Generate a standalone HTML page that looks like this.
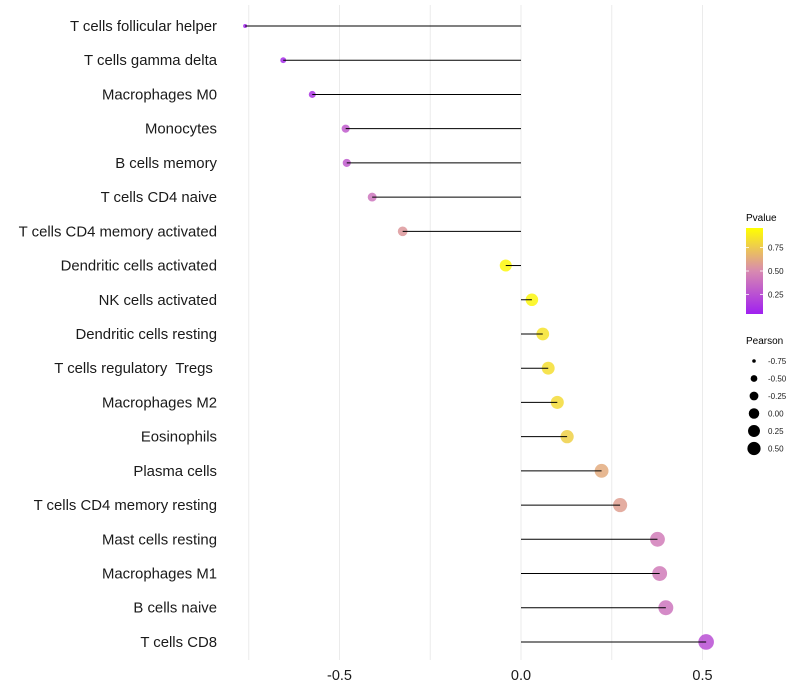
<!DOCTYPE html>
<html><head><meta charset="utf-8"><style>
html,body{margin:0;padding:0;background:#fff;}
svg{display:block;font-family:"Liberation Sans",sans-serif;}
</style></head><body>
<svg id="chart" width="800" height="700" viewBox="0 0 800 700">
<g id="grid"></g>
<g id="ylabels"></g>
<g id="xlabels"></g>
<g id="points"></g>
<g id="stems"></g>
<g id="legend">
  <defs>
    <linearGradient id="pg" x1="0" y1="1" x2="0" y2="0">
      <stop offset="0" stop-color="#a020f0"/>
      <stop offset="0.5" stop-color="#d88ab0"/>
      <stop offset="1" stop-color="#ffff00"/>
    </linearGradient>
  </defs>
  <text x="746" y="221" font-size="10" fill="#000">Pvalue</text>
  <rect x="746" y="228" width="17" height="86" fill="url(#pg)"/>
  <g id="cbticks"></g>
  <text x="746" y="344" font-size="10" fill="#000">Pearson</text>
  <g id="sizeleg"></g>
</g>
</svg>
<script>
const categories = ["T cells follicular helper","T cells gamma delta","Macrophages M0","Monocytes","B cells memory","T cells CD4 naive","T cells CD4 memory activated","Dendritic cells activated","NK cells activated","Dendritic cells resting","T cells regulatory  Tregs ","Macrophages M2","Eosinophils","Plasma cells","T cells CD4 memory resting","Mast cells resting","Macrophages M1","B cells naive","T cells CD8"];
const pearson = [-0.76,-0.655,-0.575,-0.483,-0.48,-0.41,-0.326,-0.042,0.03,0.06,0.075,0.1,0.127,0.222,0.273,0.376,0.382,0.399,0.51];
const pvalue = [0.02,0.05,0.1,0.28,0.28,0.4,0.56,0.97,0.96,0.88,0.86,0.84,0.8,0.64,0.59,0.44,0.43,0.4,0.22];
const xTicks = [-0.5,0,0.5];
const xTickLabels = ["-0.5","0.0","0.5"];
const gridVals = [-0.75,-0.5,-0.25,0,0.25,0.5];
const cbTicks = [0.25,0.5,0.75];
const sizeLegendVals = [-0.75,-0.5,-0.25,0,0.25,0.5];

const NS="http://www.w3.org/2000/svg";
const x0=521, xs=363;
function xScale(v){return x0+v*xs;}
function yScale(i){return 26+i*34.22;}
const pMin=Math.min(...pearson), pMax=Math.max(...pearson);
function rScale(v){const t=Math.max(0,Math.min(1,(v-pMin)/(pMax-pMin)));return Math.sqrt(2*2+t*(7.8*7.8-2*2));}
function lerp(a,b,t){return a+(b-a)*t;}
function hex(c){return [parseInt(c.slice(1,3),16),parseInt(c.slice(3,5),16),parseInt(c.slice(5,7),16)];}
const stops=[[0,hex("#a020f0")],[0.5,hex("#d88ab0")],[1,hex("#ffff00")]];
function colorScale(p){
  for(let i=0;i<stops.length-1;i++){const a=stops[i],b=stops[i+1];
    if(p<=b[0]||i===stops.length-2){const t=Math.max(0,Math.min(1,(p-a[0])/(b[0]-a[0])));
      return "rgb("+a[1].map((c,k)=>Math.round(lerp(c,b[1][k],t))).join(",")+")";}}
}
function mk(tag,attrs,parent){const e=document.createElementNS(NS,tag);for(const k in attrs)e.setAttribute(k,attrs[k]);parent.appendChild(e);return e;}

const grid=document.getElementById("grid");
gridVals.forEach(v=>{
  const l=mk("line",{x1:xScale(v),x2:xScale(v),y1:5,y2:660,stroke:"#ebebeb","stroke-width":1},grid);
  
  
});
const xl=document.getElementById("xlabels");
xTicks.forEach((v,i)=>{
  const t=mk("text",{x:xScale(v),y:680,"font-size":14.5,"text-anchor":"middle",fill:"#1a1a1a"},xl);
  t.textContent=xTickLabels[i];
  
  
});
const yl=document.getElementById("ylabels"), pts=document.getElementById("points"), st=document.getElementById("stems");
categories.forEach((c,i)=>{
  const y=yScale(i);
  const t=mk("text",{x:217,y:y+5,"font-size":14.9,"text-anchor":"end",fill:"#1a1a1a",style:"white-space:pre"},yl);
  t.textContent=c;
  
  
  const p=mk("circle",{cx:xScale(pearson[i]),cy:y,r:rScale(pearson[i]),fill:colorScale(pvalue[i]),"fill-opacity":0.85},pts);
  
  
  const l=mk("line",{x1:xScale(0),x2:xScale(pearson[i]),y1:y,y2:y,stroke:"#000","stroke-width":1},st);
  
  
});
const cb=document.getElementById("cbticks");
cbTicks.forEach(v=>{
  const y=314-(v-0.04)/(0.96-0.04)*86;
  const a=mk("line",{x1:746,x2:749,y1:y,y2:y,stroke:"#fff","stroke-width":0.8},cb);
  
  
  const b=mk("line",{x1:760,x2:763,y1:y,y2:y,stroke:"#fff","stroke-width":0.8},cb);
  
  
  const t=mk("text",{x:768,y:y+3,"font-size":8,fill:"#1a1a1a"},cb);
  t.textContent=v.toFixed(2);
  
  
});
const sl=document.getElementById("sizeleg");
sizeLegendVals.forEach((v,i)=>{
  const y=361+i*17.5;
  const c=mk("circle",{cx:754,cy:y,r:rScale(v)*0.85,fill:"#000"},sl);
  
  
  const t=mk("text",{x:768,y:y+3,"font-size":8,fill:"#1a1a1a"},sl);
  t.textContent=v.toFixed(2);
  
  
});
</script>
</body></html>
